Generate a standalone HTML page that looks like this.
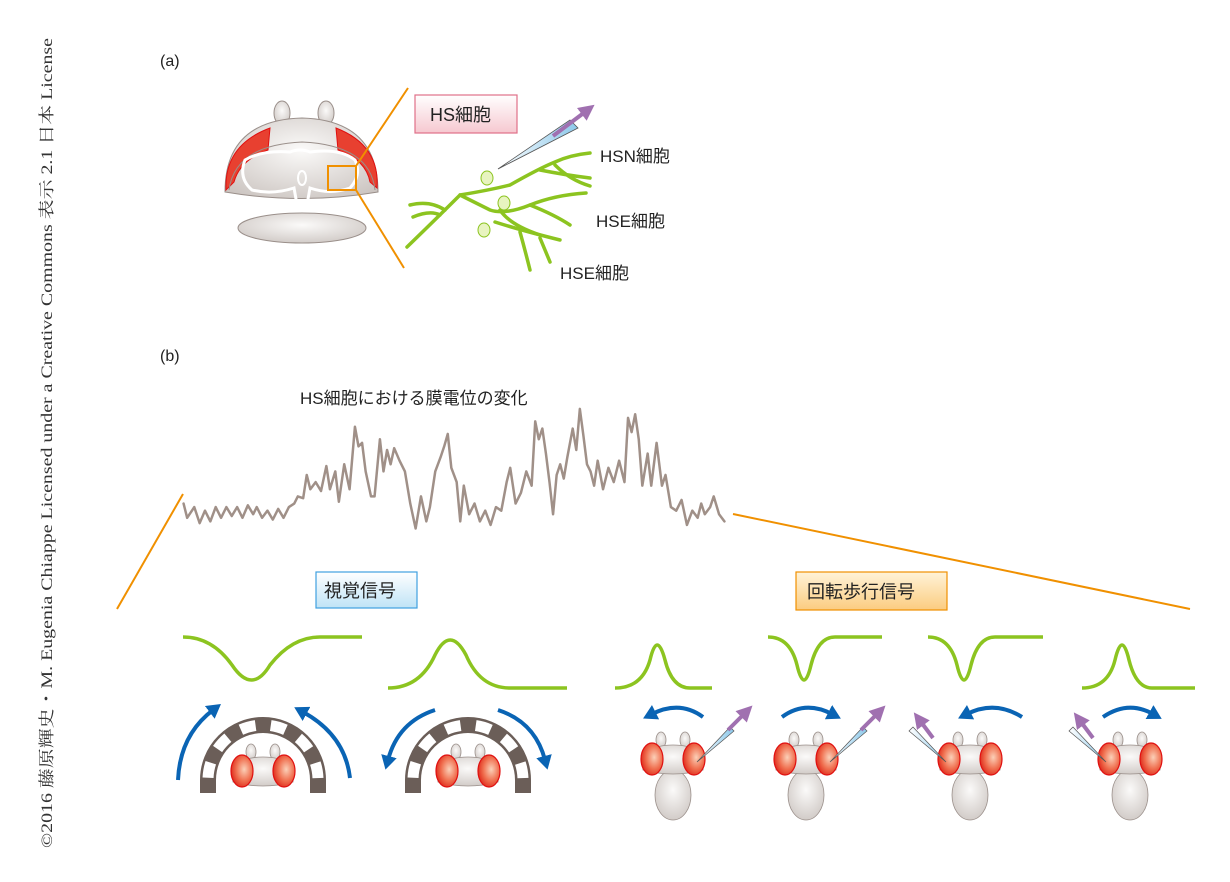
<!DOCTYPE html>
<html><head><meta charset="utf-8"><style>
html,body{margin:0;padding:0;background:#fff;}
svg{display:block;}
.t{font-family:"Liberation Sans","Noto Sans CJK JP",sans-serif;fill:#222;}
</style></head><body>
<svg width="1230" height="882" viewBox="0 0 1230 882" xmlns="http://www.w3.org/2000/svg">
<defs>
<radialGradient id="eye" cx="0.6" cy="0.45" r="0.6"><stop offset="0" stop-color="#fbd0b8"/><stop offset="0.6" stop-color="#f07050"/><stop offset="1" stop-color="#e03020"/></radialGradient>
<radialGradient id="gr" cx="0.5" cy="0.4" r="0.7"><stop offset="0" stop-color="#fbfaf9"/><stop offset="1" stop-color="#cbc4c0"/></radialGradient>
<linearGradient id="pip" x1="0" y1="0" x2="1" y2="0"><stop offset="0" stop-color="#ffffff"/><stop offset="1" stop-color="#8cc8ea"/></linearGradient>
<linearGradient id="pinkbox" x1="0" y1="0" x2="0" y2="1"><stop offset="0" stop-color="#fff"/><stop offset="1" stop-color="#f6c8d0"/></linearGradient>
<linearGradient id="bluebox" x1="0" y1="0" x2="0" y2="1"><stop offset="0" stop-color="#fff"/><stop offset="1" stop-color="#bfe3f6"/></linearGradient>
<linearGradient id="orbox" x1="0" y1="0" x2="0" y2="1"><stop offset="0" stop-color="#fff3d8"/><stop offset="1" stop-color="#fbcc80"/></linearGradient>
<marker id="pa" markerWidth="4" markerHeight="4" refX="1" refY="2" orient="auto" markerUnits="strokeWidth"><path d="M0,0 L4,2 L0,4 Z" fill="#a070b0"/></marker>
<marker id="ba" markerWidth="4" markerHeight="4" refX="1" refY="2" orient="auto" markerUnits="strokeWidth"><path d="M0,0 L3.5,2 L0,4 Z" fill="#0a64b4"/></marker>
<g id="flyhead">
  <ellipse cx="-12" cy="-20" rx="5" ry="8" fill="url(#gr)" stroke="#9a8f8a" stroke-width="0.8"/>
  <ellipse cx="12" cy="-20" rx="5" ry="8" fill="url(#gr)" stroke="#9a8f8a" stroke-width="0.8"/>
  <path d="M-30,10 Q-33,-15 0,-15 Q33,-15 30,10 Q0,18 -30,10 Z" fill="url(#gr)" stroke="#9a8f8a" stroke-width="0.8"/>
  <ellipse cx="-21" cy="-1" rx="11" ry="16" fill="url(#eye)" stroke="#e01010" stroke-width="1.2"/>
  <ellipse cx="21" cy="-1" rx="11" ry="16" fill="url(#eye)" stroke="#e01010" stroke-width="1.2"/>
</g>
<g id="fly">
  <ellipse cx="0" cy="35" rx="18" ry="25" fill="url(#gr)" stroke="#9a8f8a" stroke-width="0.8"/>
  <use href="#flyhead"/>
</g>
</defs>

<text transform="translate(52,848) rotate(-90)" font-family="Liberation Serif,'Noto Serif CJK SC',serif" font-size="16" fill="#333" textLength="810" lengthAdjust="spacingAndGlyphs">©2016 藤原輝史・M. Eugenia Chiappe Licensed under a Creative Commons 表示 2.1 日本 License</text>

<text class="t" x="160" y="66" font-size="16">(a)</text>
<text class="t" x="160" y="361" font-size="16">(b)</text>

<ellipse cx="302" cy="228" rx="64" ry="15" fill="url(#gr)" stroke="#9a8f8a"/>
<ellipse cx="282" cy="113" rx="8" ry="12" fill="url(#gr)" stroke="#9a8f8a"/>
<ellipse cx="326" cy="113" rx="8" ry="12" fill="url(#gr)" stroke="#9a8f8a"/>
<path d="M225,192 Q225,120 302,118 Q378,120 378,192 Q302,205 225,192 Z" fill="url(#gr)" stroke="#9a8f8a"/>
<path d="M226,190 Q224,145 270,128 L268,150 Q240,160 234,182 Z" fill="#e84030" stroke="#e01010"/>
<path d="M377,188 Q380,145 336,128 L338,150 Q366,160 370,182 Z" fill="#e84030" stroke="#e01010"/>
<path d="M229,190 Q235,145 302,142 Q370,145 375,190" fill="none" stroke="#9a8f8a"/>
<path d="M245,160 Q262,150 290,152 Q300,148 310,152 Q340,148 355,160 Q362,175 350,188 Q330,195 310,188 L306,210 L298,210 L294,188 Q272,195 252,190 Q238,178 245,160 Z" fill="none" stroke="#fff" stroke-width="3"/>
<ellipse cx="302" cy="178" rx="4" ry="7" fill="none" stroke="#fff" stroke-width="2"/>
<rect x="328" y="166" width="28" height="24" fill="none" stroke="#f09000" stroke-width="2"/>
<line x1="356" y1="166" x2="408" y2="88" stroke="#f09000" stroke-width="2"/>
<line x1="356" y1="190" x2="404" y2="268" stroke="#f09000" stroke-width="2"/>

<rect x="415" y="95" width="102" height="38" fill="url(#pinkbox)" stroke="#e07088" stroke-width="1.2"/>
<text class="t" x="430" y="121" font-size="18">HS細胞</text>

<g fill="none" stroke="#8cc420" stroke-width="3.5" stroke-linecap="round">
<path d="M407,247 Q440,215 460,195 Q490,190 510,185 Q540,168 555,162 Q570,155 590,153"/>
<path d="M540,170 Q565,175 590,178"/>
<path d="M555,165 Q570,180 590,186"/>
<path d="M410,205 Q430,200 445,210"/>
<path d="M413,217 Q430,210 440,215"/>
<path d="M460,195 Q480,205 490,210 Q505,215 530,205 Q555,195 586,193"/>
<path d="M530,205 Q555,215 570,225"/>
<path d="M500,210 Q510,225 540,235"/>
<path d="M495,222 Q520,230 560,240"/>
<path d="M520,232 Q525,250 530,270"/>
<path d="M540,238 Q545,250 550,262"/>
</g>
<ellipse cx="487" cy="178" rx="6" ry="7" fill="#e8f4c0" stroke="#8cc420"/>
<ellipse cx="504" cy="203" rx="6" ry="7" fill="#e8f4c0" stroke="#8cc420"/>
<ellipse cx="484" cy="230" rx="6" ry="7" fill="#e8f4c0" stroke="#8cc420"/>
<path d="M498,169 L570,120 L578,128 Z" fill="url(#pip)" stroke="#555" stroke-width="0.8"/>
<line x1="553" y1="136" x2="585" y2="112" stroke="#a070b0" stroke-width="4" marker-end="url(#pa)"/>
<text class="t" x="600" y="162" font-size="17">HSN細胞</text>
<text class="t" x="596" y="227" font-size="17">HSE細胞</text>
<text class="t" x="560" y="279" font-size="17">HSE細胞</text>

<text class="t" x="300" y="404" font-size="17">HS細胞における膜電位の変化</text>
<line x1="183" y1="494" x2="117" y2="609" stroke="#f09000" stroke-width="2"/>
<line x1="733" y1="514" x2="1190" y2="609" stroke="#f09000" stroke-width="2"/>
<g transform="translate(180,400) scale(0.357)">
<polyline fill="none" stroke="#a09088" stroke-width="7" stroke-linejoin="round" stroke-linecap="round" points="10,290 20,330 40,300 55,345 70,310 85,340 100,300 115,330 130,300 145,325 160,300 175,330 190,295 205,320 215,300 230,330 245,310 260,335 275,305 290,330 305,300 320,290 330,270 345,275 355,210 365,250 380,230 395,255 410,185 420,250 435,200 445,285 460,180 475,250 490,75 500,130 510,120 520,200 535,270 545,270 560,110 570,200 580,140 590,180 600,135 615,170 630,200 645,290 660,360 675,270 690,340 700,300 715,200 730,160 740,130 750,95 760,190 775,230 785,340 795,240 810,320 825,290 840,340 855,310 870,350 885,300 900,310 915,230 925,190 940,290 955,260 970,200 985,240 995,60 1005,110 1015,80 1025,150 1035,230 1045,320 1055,210 1065,180 1075,220 1085,160 1100,80 1110,140 1120,25 1130,100 1140,180 1150,200 1160,240 1170,170 1185,250 1200,190 1215,230 1230,170 1245,230 1255,50 1265,90 1275,40 1285,110 1295,240 1310,150 1320,240 1335,120 1350,240 1360,210 1375,300 1390,310 1405,280 1420,350 1435,310 1450,330 1460,290 1470,320 1485,300 1495,270 1510,320 1525,340"/>
</g>

<rect x="316" y="572" width="101" height="36" fill="url(#bluebox)" stroke="#40a0e0" stroke-width="1.2"/>
<text class="t" x="324" y="597" font-size="18">視覚信号</text>
<rect x="796" y="572" width="151" height="38" fill="url(#orbox)" stroke="#f09000" stroke-width="1.2"/>
<text class="t" x="807" y="598" font-size="18">回転歩行信号</text>

<g fill="none" stroke="#8cc420" stroke-width="3.5">
<path d="M183,637 Q212,637 232,665 Q252,695 270,665 Q292,637 320,637 L362,637"/>
<path d="M388,688 Q420,688 435,655 Q450,625 466,655 Q480,688 510,688 L567,688"/>
<path d="M615,688 Q642,688 650,660 Q657,630 665,660 Q672,688 690,688 L712,688"/>
<path d="M768,637 Q790,637 797,665 Q804,695 811,665 Q818,637 835,637 L882,637"/>
<path d="M928,637 Q950,637 957,665 Q964,695 971,665 Q978,637 995,637 L1043,637"/>
<path d="M1082,688 Q1108,688 1115,660 Q1122,630 1129,660 Q1136,688 1152,688 L1195,688"/>
</g>

<g>
<path d="M208,793 L208,780 A55,55 0 0 1 318,780 L318,793" fill="none" stroke="#6b5e58" stroke-width="16"/>
<path d="M208,793 L208,780 A55,55 0 0 1 318,780 L318,793" fill="none" stroke="#fff" stroke-width="11" stroke-dasharray="15.3 15.3" stroke-dashoffset="15.3"/>
<use href="#flyhead" x="263" y="772"/>
<path d="M178,780 Q180,735 213,710" fill="none" stroke="#0a64b4" stroke-width="4" marker-end="url(#ba)"/>
<path d="M350,778 Q345,735 303,712" fill="none" stroke="#0a64b4" stroke-width="4" marker-end="url(#ba)"/>

<path d="M413,793 L413,780 A55,55 0 0 1 523,780 L523,793" fill="none" stroke="#6b5e58" stroke-width="16"/>
<path d="M413,793 L413,780 A55,55 0 0 1 523,780 L523,793" fill="none" stroke="#fff" stroke-width="11" stroke-dasharray="15.3 15.3" stroke-dashoffset="15.3"/>
<use href="#flyhead" x="468" y="772"/>
<path d="M435,710 Q398,722 388,760" fill="none" stroke="#0a64b4" stroke-width="4" marker-end="url(#ba)"/>
<path d="M498,710 Q535,722 545,760" fill="none" stroke="#0a64b4" stroke-width="4" marker-end="url(#ba)"/>
</g>

<use href="#fly" x="673" y="760"/>
<use href="#fly" x="806" y="760"/>
<use href="#fly" x="970" y="760"/>
<use href="#fly" x="1130" y="760"/>
<path d="M697,762 L730,727 L734,731 Z" fill="url(#pip)" stroke="#555" stroke-width="0.7"/>
<line x1="728" y1="730" x2="744" y2="714" stroke="#a070b0" stroke-width="4" marker-end="url(#pa)"/>
<path d="M830,762 L863,727 L867,731 Z" fill="url(#pip)" stroke="#555" stroke-width="0.7"/>
<line x1="861" y1="730" x2="877" y2="714" stroke="#a070b0" stroke-width="4" marker-end="url(#pa)"/>
<path d="M946,762 L913,727 L909,731 Z" fill="url(#pip)" stroke="#555" stroke-width="0.7"/>
<line x1="933" y1="738" x2="921" y2="722" stroke="#a070b0" stroke-width="4" marker-end="url(#pa)"/>
<path d="M1106,762 L1073,727 L1069,731 Z" fill="url(#pip)" stroke="#555" stroke-width="0.7"/>
<line x1="1093" y1="738" x2="1081" y2="722" stroke="#a070b0" stroke-width="4" marker-end="url(#pa)"/>
<path d="M703,717 Q680,700 652,714" fill="none" stroke="#0a64b4" stroke-width="4" marker-end="url(#ba)"/>
<path d="M782,717 Q805,700 832,714" fill="none" stroke="#0a64b4" stroke-width="4" marker-end="url(#ba)"/>
<path d="M1022,717 Q995,700 967,714" fill="none" stroke="#0a64b4" stroke-width="4" marker-end="url(#ba)"/>
<path d="M1103,717 Q1128,700 1153,714" fill="none" stroke="#0a64b4" stroke-width="4" marker-end="url(#ba)"/>
</svg>
</body></html>
